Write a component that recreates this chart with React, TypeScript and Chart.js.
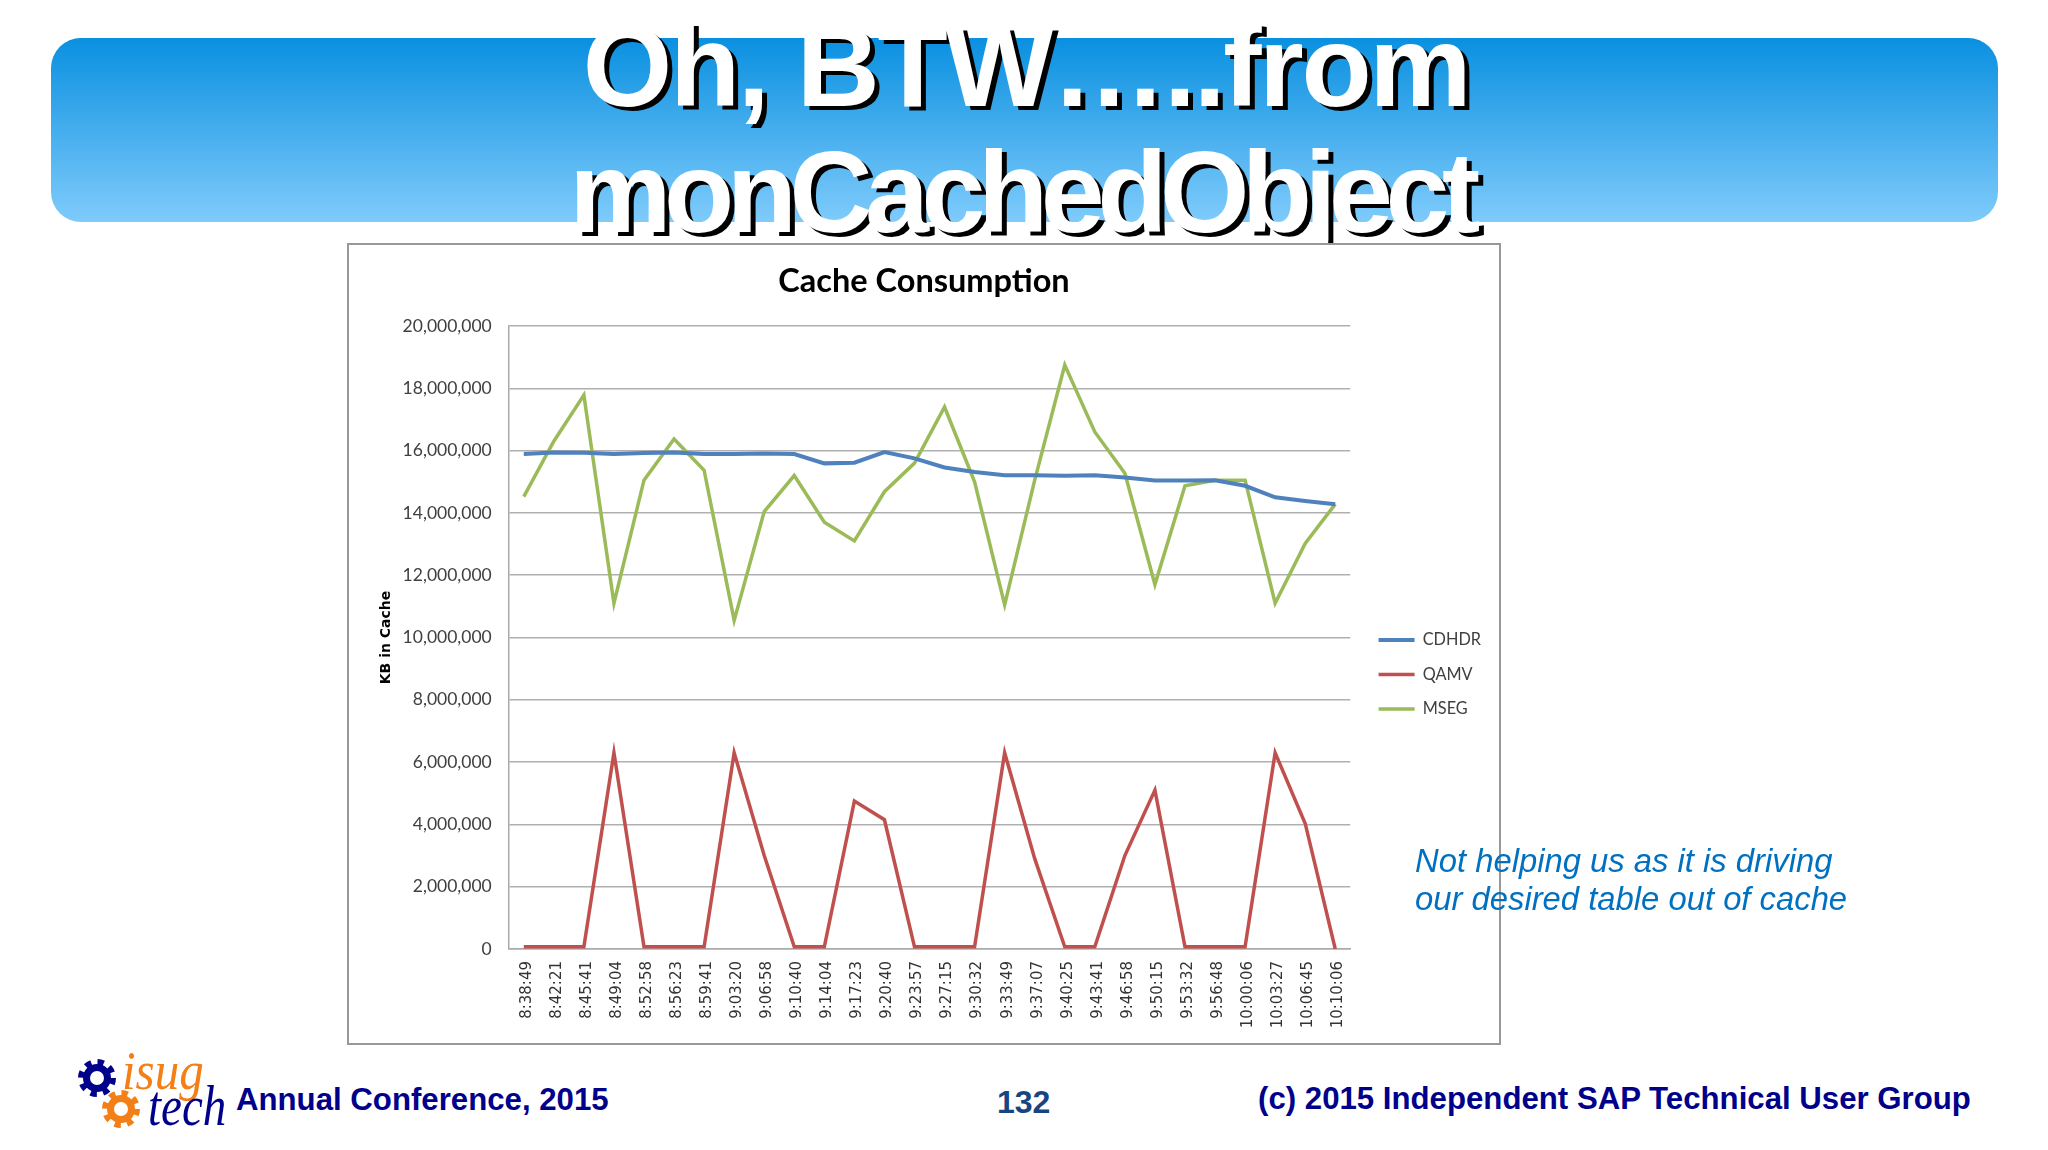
import { useEffect, useRef } from 'react';
import { Chart, registerables } from 'chart.js';

Chart.register(...registerables);

const times = [
  '8:38:49', '8:42:21', '8:45:41', '8:49:04', '8:52:58', '8:56:23', '8:59:41',
  '9:03:20', '9:06:58', '9:10:40', '9:14:04', '9:17:23', '9:20:40', '9:23:57',
  '9:27:15', '9:30:32', '9:33:49', '9:37:07', '9:40:25', '9:43:41', '9:46:58',
  '9:50:15', '9:53:32', '9:56:48', '10:00:06', '10:03:27', '10:06:45', '10:10:06',
];

const cdhdr = [
  15890000, 15940000, 15930000, 15890000, 15920000, 15940000, 15890000,
  15890000, 15910000, 15890000, 15590000, 15610000, 15950000, 15750000,
  15460000, 15310000, 15210000, 15210000, 15190000, 15210000, 15140000,
  15040000, 15040000, 15050000, 14870000, 14500000, 14380000, 14280000,
];

const qamv = [
  70000, 70000, 70000, 6300000, 70000, 70000, 70000,
  6300000, 3000000, 70000, 70000, 4750000, 4150000, 70000,
  70000, 70000, 6300000, 2900000, 70000, 70000, 3000000,
  5100000, 70000, 70000, 70000, 6300000, 4030000, 0,
];

const mseg = [
  14520000, 16300000, 17780000, 11100000, 15050000, 16370000, 15370000,
  10550000, 14040000, 15200000, 13700000, 13100000, 14680000, 15600000,
  17400000, 15000000, 11050000, 15050000, 18750000, 16600000, 15270000,
  11700000, 14870000, 15050000, 15050000, 11100000, 13020000, 14280000,
];

const moveLegend = {
  id: 'moveLegend',
  afterLayout(chart: Chart) {
    const legend = chart.legend as any;
    legend.left += 10;
    legend.right += 40;
    legend.top += 31;
    legend.bottom += 31;
  },
};

function Gear({ x, y, color }: { x: number; y: number; color: string }) {
  return (
    <svg width={52} height={52} style={{ position: 'absolute', left: x - 26, top: y - 26 }}>
      <circle cx={26} cy={26} r={16} fill="none" stroke={color} strokeWidth={6} strokeDasharray="6.3 6.27" />
      <circle cx={26} cy={26} r={10.5} fill="none" stroke={color} strokeWidth={7} />
    </svg>
  );
}

const abs = (left: number, top: number, extra: object = {}) => ({
  position: 'absolute' as const,
  left,
  top,
  whiteSpace: 'nowrap' as const,
  ...extra,
});

export default function App() {
  const canvasRef = useRef<HTMLCanvasElement>(null);

  useEffect(() => {
    if (!canvasRef.current) return;
    document.body.style.margin = '0';

    const chart = new Chart(canvasRef.current, {
      type: 'line',
      plugins: [moveLegend],
      data: {
        labels: times,
        datasets: [
          { label: 'CDHDR', data: cdhdr, borderColor: '#4f81bd', backgroundColor: '#4f81bd', borderWidth: 4 },
          { label: 'QAMV', data: qamv, borderColor: '#c0504d', backgroundColor: '#c0504d', borderWidth: 3.5 },
          { label: 'MSEG', data: mseg, borderColor: '#9bbb59', backgroundColor: '#9bbb59', borderWidth: 3.5 },
        ],
      },
      options: {
        responsive: false,
        animation: false,
        layout: { padding: { left: 19, right: 19 } },
        elements: {
          point: { radius: 0 },
          line: { tension: 0, borderJoinStyle: 'miter' },
        },
        plugins: {
          title: {
            display: true,
            text: 'Cache Consumption',
            color: '#000',
            font: { family: 'Lato', size: 32.5, weight: 'bold', lineHeight: 1.2 },
            padding: { top: 18, bottom: 25 },
          },
          legend: {
            position: 'right',
            labels: {
              usePointStyle: true,
              pointStyle: 'line',
              pointStyleWidth: 36,
              padding: 18.3,
              color: '#404040',
              font: { family: 'Lato', size: 16.3 },
            },
          },
          tooltip: { enabled: false },
        },
        scales: {
          x: {
            offset: true,
            grid: { display: false },
            border: { color: '#aaa', width: 1.5 },
            afterFit: (scale) => {
              scale.height = 94;
            },
            ticks: {
              autoSkip: false,
              minRotation: 90,
              maxRotation: 90,
              padding: 4,
              labelOffset: 3,
              color: '#333',
              font: { family: 'DejaVu Sans', size: 15 },
            },
          },
          y: {
            min: 0,
            max: 20000000,
            afterFit: (scale) => {
              scale.width = 141.75;
            },
            grid: { color: '#b0b0b0', lineWidth: 1.5, drawTicks: false },
            border: { color: '#aaa', width: 1.5 },
            title: {
              display: true,
              text: 'KB in Cache',
              color: '#000',
              padding: { top: 10.5, bottom: 0 },
              font: { family: 'DejaVu Sans', size: 14, weight: 'bold' },
            },
            ticks: {
              stepSize: 2000000,
              padding: 17,
              color: '#404040',
              font: { family: 'Lato', size: 17.5 },
              callback: (value) => Number(value).toLocaleString('en-US'),
            },
          },
        },
      },
    });

    return () => chart.destroy();
  }, []);

  const footer = { fontFamily: 'Liberation Sans', fontWeight: 'bold', fontSize: 31.2, color: '#00008b' };
  const heading = {
    fontFamily: 'Liberation Sans',
    fontWeight: 'bold',
    fontSize: 115,
    color: '#fff',
    textShadow: '5px 4px 0 #000',
    lineHeight: '125px',
    textAlign: 'center' as const,
    fontKerning: 'none' as const,
    width: 2048,
  };
  const note = { fontFamily: 'Liberation Sans', fontStyle: 'italic', fontSize: 32.8, color: '#0070c0' };
  const logo = { fontFamily: 'Liberation Serif', fontStyle: 'italic', transformOrigin: '0 80%' };

  return (
    <div style={{ position: 'relative', width: 2048, height: 1150, background: '#fff', overflow: 'hidden' }}>
      <div
        style={{
          position: 'absolute', left: 51, top: 38, width: 1947, height: 184, borderRadius: 30,
          background: 'linear-gradient(#0a90e0, #7fcbfb)',
        }}
      />
      <div style={abs(2, 4, { ...heading, letterSpacing: -2.4 })}>Oh, BTW…..from</div>
      <div style={abs(-3, 130, { ...heading, letterSpacing: -7.5 })}>monCachedObject</div>

      <div style={{ position: 'absolute', left: 347, top: 243, width: 1150, height: 798, border: '2px solid #999', background: '#fff' }} />
      <canvas ref={canvasRef} width={1152} height={799} style={{ position: 'absolute', left: 348, top: 244 }} />

      <div style={abs(1415, 842, note)}>Not helping us as it is driving</div>
      <div style={abs(1415, 880, note)}>our desired table out of cache</div>

      <Gear x={97} y={1078} color="#00008b" />
      <Gear x={121} y={1109} color="#f47f17" />
      <div style={abs(122, 1044, { ...logo, transform: 'scaleY(1.1)', fontSize: 49, color: '#f47f17' })}>isug</div>
      <div style={abs(148, 1082, { ...logo, transform: 'scaleY(1.2)', fontSize: 47, color: '#00008b' })}>tech</div>

      <div style={abs(236, 1082, footer)}>Annual Conference, 2015</div>
      <div style={abs(997, 1084, { ...footer, fontSize: 32, color: '#17457f' })}>132</div>
      <div style={abs(1258, 1081, footer)}>(c) 2015 Independent SAP Technical User Group</div>
    </div>
  );
}
